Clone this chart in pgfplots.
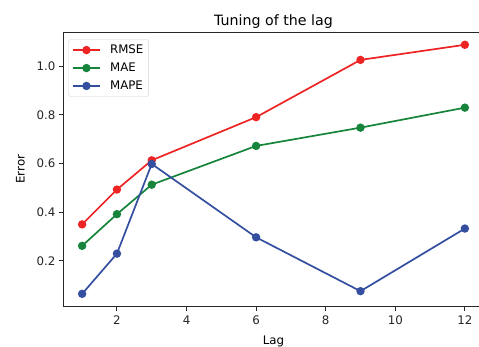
\documentclass[border=0pt]{standalone}
\usepackage{pgfplots}
\pgfplotsset{compat=1.18}
\usepackage{fontspec}
\setmainfont{DejaVu Sans}
\definecolor{cred}{RGB}{238,36,36}
\definecolor{cgreen}{RGB}{22,132,58}
\definecolor{cblue}{RGB}{52,78,160}
\definecolor{spine}{RGB}{40,40,40}
\begin{document}
\begin{tikzpicture}
\clip (-63bp,-40.7bp) rectangle (416bp,306.3bp);
\begin{axis}[
  name=ax,
  anchor=south west, at={(0,0)},
  scale only axis,
  width=421bp, height=274.3bp,
  xmin=0.45, xmax=12.55,
  ymin=0.0139, ymax=1.1395,
  xtick={2,4,6,8,10,12},
  ytick={0.2,0.4,0.6,0.8,1.0},
  yticklabel style={/pgf/number format/.cd,fixed,fixed zerofill,precision=1},
  /pgf/number format/assume math mode=true,
  tick label style={font=\fontsize{11.8bp}{14bp}\selectfont, text=black!85},
  xticklabel style={yshift=-2bp},
  tick align=outside,
  xtick pos=bottom, ytick pos=left,
  major tick length=4.2bp,
  tick style={spine, line width=0.9bp},
  axis line style={spine, line width=0.9bp},
  title={Tuning of the lag},
  title style={font=\fontsize{14.2bp}{16bp}\selectfont, yshift=-6bp},
  xlabel={Lag}, ylabel={Error},
  label style={font=\fontsize{11.8bp}{14bp}\selectfont},
  xlabel style={yshift=-4bp},
  ylabel style={yshift=5bp},
  every axis plot/.append style={line width=1.7bp, mark=*, mark size=3.3bp},
  legend image code/.code={
    \draw[line width=1.7bp, mark repeat=2,mark phase=2] plot coordinates {(0bp,0bp) (13.8bp,0bp) (27.6bp,0bp)};
  },
  legend style={at={(5.6bp,267bp)}, anchor=north west, draw=black!18, rounded corners=2bp,
    font=\fontsize{11.8bp}{14bp}\selectfont, row sep=3.8bp, inner xsep=3bp, inner ysep=3.5bp,
    /tikz/every odd column/.append style={column sep=7bp}},
  legend cell align=left,
]
\addplot[color=cred] coordinates {(1,0.350) (2,0.493) (3,0.613) (6,0.790) (9,1.025) (12,1.087)};
\addlegendentry{RMSE}
\addplot[color=cgreen] coordinates {(1,0.262) (2,0.392) (3,0.513) (6,0.672) (9,0.747) (12,0.829)};
\addlegendentry{MAE}
\addplot[color=cblue] coordinates {(1,0.065) (2,0.230) (3,0.598) (6,0.297) (9,0.076) (12,0.333)};
\addlegendentry{MAPE}
\end{axis}
\end{tikzpicture}
\end{document}
